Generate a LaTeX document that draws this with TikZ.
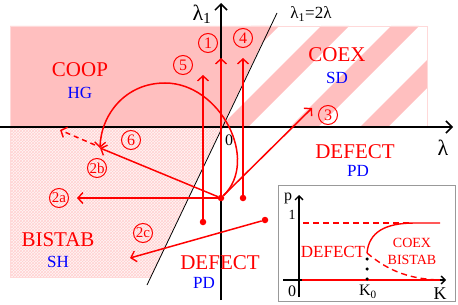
\documentclass[tikz,border=0pt]{standalone}
\usepackage{fontspec}
\setmainfont{Liberation Serif}
\usetikzlibrary{arrows.meta,patterns}

\begin{document}
\begin{tikzpicture}[
    x=1pt, y=-1pt,
    region/.style={font=\fontsize{21}{24}\selectfont, text=red},
    strat/.style={font=\fontsize{17}{20}\selectfont, text=blue},
    num/.style={
        circle, draw=red, text=red, line width=1pt,
        minimum size=19pt, inner sep=0pt,
        font=\fontsize{16}{18}\selectfont,
    },
    arr/.style={-{Straight Barb[length=5pt,width=11pt,line width=1.4pt]}, red, line width=1.5pt},
    axis/.style={-{Straight Barb[length=6pt,width=12pt]}, line width=1.5pt},
    dot/.style={circle, fill=red, inner sep=0pt, minimum size=6.5pt},
    bdot/.style={circle, fill=black, inner sep=0pt, minimum size=3.5pt},
    curve/.style={red, line width=1.4pt},
    lbl/.style={font=\fontsize{16}{18}\selectfont},
]
\useasboundingbox (0,0) rectangle (458,305);

% Regions
\fill[red!4] (10,127) -- (222,127) -- (151,277) -- (10,277) -- cycle;
\fill[pattern=crosshatch, pattern color=red!18] (10,127) -- (222,127) -- (151,277) -- (10,277) -- cycle;
\draw[red!15] (10,127) -- (10,277) -- (151,277);
\begin{scope}
\clip (10,26) rectangle (427,127);
\foreach \c in {277,347,...,557}
    \fill[red!25] (\c-26,26) -- (\c+2,26) -- (\c-99,127) -- (\c-127,127) -- cycle;
\end{scope}
\fill[red!25] (10,26) -- (270,26) -- (222,127) -- (10,127) -- cycle;
\draw[red!15] (10,127) -- (10,26) -- (427,26) -- (427,127);

% Axes
\draw[axis] (0,127) -- (453,127);
\draw[axis] (221,300) -- (221,3);
\draw[line width=0.8pt] (147,285) -- (277,13);
\node[font=\fontsize{22}{24}\selectfont] (l1) at (202,14) {λ\textsubscript{1}};
\node[font=\fontsize{17}{19}\selectfont] (ldiag) at (311,14) {λ\textsubscript{1}=2λ};
\node[font=\fontsize{22}{24}\selectfont] (l) at (443,148) {λ};
\node[lbl] (zero) at (229,140) {0};

% Region names
\node[region] (coop) at (80,70) {COOP};
\node[strat] (hg) at (80,93) {HG};
\node[region] (coex) at (337,55) {COEX};
\node[strat] (sd) at (337,78) {SD};
\node[region] (defr) at (355,152) {DEFECT};
\node[strat] (pdr) at (358,171) {PD};
\node[region] (bistab) at (58,240) {BISTAB};
\node[strat] (sh) at (58,262) {SH};
\node[region] (defb) at (220,263) {DEFECT};
\node[strat] (pdb) at (204,283) {PD};

% Paths
\node[dot] (o) at (221,198) {};
\node[dot] (d5) at (203,222) {};
\node[dot] (d4) at (243,198) {};
\node[dot] (dc) at (265,220) {};
\coordinate (t1) at (221,58);
\coordinate (t5) at (203,75);
\coordinate (t4) at (243,58);
\coordinate (t3) at (312,108);
\coordinate (t2a) at (77,198);
\coordinate (t2b) at (100,148);
\coordinate (t2c) at (130,258);
\coordinate (top6) at (165,83);
\coordinate (s6) at (95,145);
\coordinate (t6) at (60,130);

\draw[arr] (o) -- (t1);
\draw[arr] (d5) -- (t5);
\draw[arr] (d4) -- (t4);
\draw[arr] (o) -- (t3);
\draw[arr] (o) -- (t2a);
\draw[arr] (o) -- (t2b);
\draw[arr] (dc) -- (t2c);
\draw[arr] (o) .. controls (260,160) and (220,83) .. (top6) .. controls (125,83) and (101,115) .. (t2b);
\draw[arr, dash pattern=on 5pt off 4pt] (s6) -- (t6);

\node[num] (n1) at (208,43) {1};
\node[num] (n5) at (183,65) {5};
\node[num] (n4) at (243,38) {4};
\node[num] (n3) at (328,115) {3};
\node[num] (n6) at (131,140) {6};
\node[num, font=\fontsize{15}{17}\selectfont] (n2b) at (97,168) {2b};
\node[num, font=\fontsize{15}{17}\selectfont] (n2a) at (59,198) {2a};
\node[num, font=\fontsize{15}{17}\selectfont] (n2c) at (143,233) {2c};

% Inset
\node[draw=gray!80, fill=white, line width=0.9pt, minimum width=177pt, minimum height=116pt, inner sep=0pt] (inset) at (366.5,243.5) {};
\draw[axis, line width=1.3pt, -{Straight Barb[length=4pt,width=8pt]}] (299,297) -- (299,195);
\draw[axis, line width=1.3pt, -{Straight Barb[length=4pt,width=8pt]}] (283,280) -- (446,280);
\coordinate (k0) at (367,253);
\draw[curve] (302,280) -- (440,280);
\draw[curve, dash pattern=on 6pt off 4pt] (303,223) -- (410,223);
\draw[curve] (k0) .. controls (369,232) and (385,223) .. (415,223) -- (440,223);
\draw[curve, dash pattern=on 6pt off 4pt] (k0) .. controls (385,268) and (405,279) .. (440,280);
\node[bdot] (b1) at (367,259) {};
\node[bdot] (b2) at (367,269) {};
\node[bdot] (b3) at (367,279) {};

\node[lbl] (p) at (288,198) {p};
\node[font=\fontsize{14}{16}\selectfont] (one) at (292,215) {1};
\node[lbl] (zi) at (292,291) {0};
\node[lbl] (kz) at (368,292) {K\textsubscript{0}};
\node[font=\fontsize{18}{20}\selectfont] (k) at (440,294) {K};
\node[font=\fontsize{17}{19}\selectfont, text=red] (idef) at (333,252) {DEFECT};
\node[font=\fontsize{14}{16}\selectfont, text=red] (icoex) at (412,243) {COEX};
\node[font=\fontsize{14}{16}\selectfont, text=red] (ibis) at (412,260) {BISTAB};

\end{tikzpicture}
\end{document}
